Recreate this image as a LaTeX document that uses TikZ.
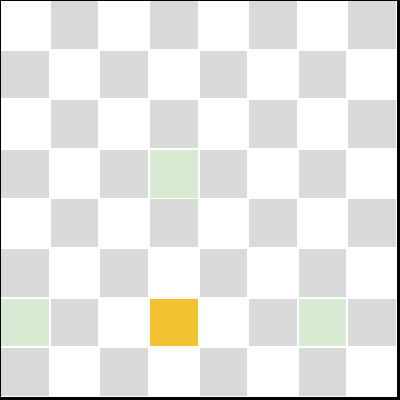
\documentclass[tikz,border=0pt]{standalone}
\usetikzlibrary{positioning}
\definecolor{boardgray}{HTML}{D9D9D9}
\definecolor{markgreen}{HTML}{D9EAD3}
\definecolor{markyellow}{HTML}{F1C232}

\begin{document}
\begin{tikzpicture}[
    square/.style={rectangle, minimum size=0.96cm, inner sep=0pt, draw=none},
    dark/.style={square, fill=boardgray},
    light/.style={square, fill=white},
    frame/.style={draw=black, line width=0.05cm}
  ]
  \useasboundingbox (0,0) rectangle (8.06,8.06);
  % board, row 0 at the top
  \foreach \r in {0,...,7}{
    \foreach \c in {0,...,7}{
      \pgfmathtruncatemacro{\odd}{mod(\r+\c,2)}
      \ifnum\odd=1
        \node[dark] (c-\r-\c) at (\c+0.5, 7.56-\r) {};
      \else
        \node[light] (c-\r-\c) at (\c+0.5, 7.56-\r) {};
      \fi
    }
  }
  % marked squares
  \node[square, fill=markgreen] (m1) at (c-3-3) {};
  \node[square, fill=markgreen] (m2) at (c-6-0) {};
  \node[square, fill=markgreen] (m3) at (c-6-6) {};
  \node[square, fill=markyellow] (piece) at (c-6-3) {};
  \draw[frame] (0,0.03) rectangle (8.03,8.06);
\end{tikzpicture}
\end{document}
